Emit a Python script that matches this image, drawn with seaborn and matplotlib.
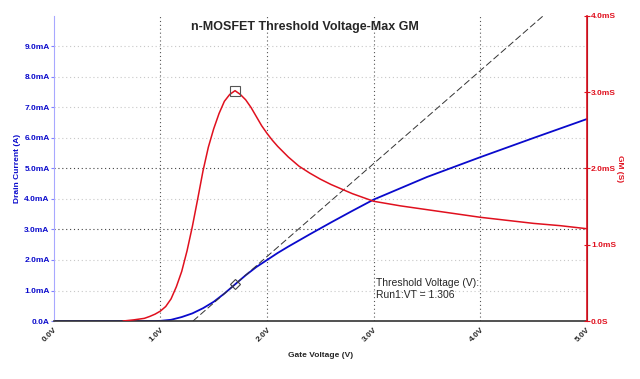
import numpy as np
import pandas as pd
import matplotlib
matplotlib.use("Agg")
import matplotlib.pyplot as plt
import seaborn as sns

# drain current curve (gate voltage in V, current in mA)
id_volts = [0.0, 0.95, 1.0, 1.1, 1.2, 1.3, 1.4, 1.5, 1.6, 1.7, 1.8, 1.9, 2.0,
            2.1, 2.2, 2.4, 2.6, 2.8, 3.0, 3.5, 4.0, 4.5, 5.0]
drain_ma = [0.0, 0.0, 0.005, 0.04, 0.13, 0.25, 0.42, 0.63, 0.9, 1.2, 1.5, 1.77, 2.0,
            2.23, 2.44, 2.84, 3.23, 3.61, 3.98, 4.72, 5.37, 6.0, 6.62]

# transconductance curve (mS)
gm_volts = [0.65, 0.75, 0.85, 0.9, 0.95, 1.0, 1.05, 1.1, 1.15, 1.2, 1.25, 1.3,
            1.35, 1.4, 1.45, 1.5, 1.55, 1.6, 1.65, 1.7, 1.75, 1.8, 1.85, 1.9,
            1.95, 2.0, 2.05, 2.1, 2.2, 2.3, 2.4, 2.5, 2.6, 2.8, 3.0, 3.25, 3.5, 3.75,
            4.0, 4.25, 4.5, 4.75, 5.0]
gm_ms = [0.0, 0.015, 0.035, 0.06, 0.09, 0.13, 0.19, 0.29, 0.45, 0.65, 0.92, 1.24,
         1.6, 1.97, 2.28, 2.52, 2.72, 2.88, 2.97, 3.02, 2.97, 2.9, 2.8, 2.68,
         2.56, 2.46, 2.37, 2.29, 2.15, 2.03, 1.94, 1.86, 1.79, 1.67, 1.57, 1.51, 1.46,
         1.41, 1.36, 1.32, 1.28, 1.25, 1.21]

vt = 1.306
x_ticks = [0, 1, 2, 3, 4, 5]
x_labels = ["0.0V", "1.0V", "2.0V", "3.0V", "4.0V", "5.0V"]
left_ticks = [0, 1, 2, 3, 4, 5, 6, 7, 8, 9]
left_labels = ["0.0A"] + ["%.1fmA" % t for t in left_ticks[1:]]
right_ticks = [0, 1, 2, 3, 4]
right_labels = ["0.0S"] + ["%.1fmS" % t for t in right_ticks[1:]]

df_id = pd.DataFrame({"V": id_volts, "Id": drain_ma})
df_gm = pd.DataFrame({"V": gm_volts, "gm": gm_ms})

sns.set_style("white")
plt.rcParams["font.family"] = ["Liberation Sans", "DejaVu Sans"]

BLUE = "#0a0acc"
RED = "#e0101e"

fig = plt.figure(figsize=(6.4, 3.79), dpi=100)
ax = fig.add_axes([0.084, 0.153, 0.833, 0.805])
ax2 = ax.twinx()

# grid
for v in x_ticks[1:-1]:
    ax.axvline(v, color="#555555", lw=0.8, ls=(0, (1, 2.5)), zorder=0)
for m in left_ticks[1:]:
    c = "#444444" if m in (3, 5) else "#c8c8c8"
    ax.axhline(m, color=c, lw=0.8, ls=(0, (1, 2.5)), zorder=0)

sns.lineplot(data=df_id, x="V", y="Id", ax=ax, color=BLUE, lw=1.3)

# tangent at max gm
ipk = int(np.argmax(gm_ms))
vpk = gm_volts[ipk]
idpk = np.interp(vpk, id_volts, drain_ma)
slope = idpk / (vpk - vt)
x_end = vt + 10 / slope
ax.plot([vt, x_end], [0, 10], color="#333333", lw=0.7, ls=(0, (7, 3)))
ax.plot(vpk, idpk, marker="D", ms=5, mfc="none", mec="#444444", mew=0.8)

sns.lineplot(data=df_gm, x="V", y="gm", ax=ax2, color=RED, lw=1.1)
ax2.plot(vpk, gm_ms[ipk], marker="s", ms=7, mfc="none", mec="#555555", mew=0.8)

ax.set_xlim(0, 5)
ax.set_ylim(0, 10)
ax2.set_ylim(0, 4)

ax.set_xticks(x_ticks)
ax.set_xticklabels(x_labels, rotation=45, ha="right", rotation_mode="anchor",
                   fontsize=6, fontweight="bold")
ax.set_yticks(left_ticks)
ax.set_yticklabels(left_labels, fontsize=6, fontweight="bold", color=BLUE)
ax2.set_yticks(right_ticks)
ax2.set_yticklabels(right_labels, fontsize=6, fontweight="bold", color=RED)

ax.tick_params(axis="x", length=3, width=0.8, color="#333333", pad=2, direction="inout")
ax.tick_params(axis="y", length=2, width=0.8, color="#8080ff", pad=1)
ax2.tick_params(axis="y", length=4, width=0.8, color=RED, pad=1, direction="inout")

for a in (ax, ax2):
    a.spines["top"].set_visible(False)
ax.spines["left"].set_color("#a8a8ff")
ax.spines["bottom"].set_color("#333333")
ax.spines["bottom"].set_linewidth(1.2)
ax2.spines["right"].set_color(RED)
ax2.spines["right"].set_linewidth(1.2)
ax2.spines["left"].set_visible(False)
ax2.spines["bottom"].set_visible(False)

ax.set_xlabel("Gate Voltage (V)", fontsize=6, fontweight="bold", labelpad=6)
ax.set_ylabel("Drain Current (A)", fontsize=6, fontweight="bold", color=BLUE, labelpad=2)
ax2.set_ylabel("GM (S)", fontsize=6, fontweight="bold", color=RED, rotation=270,
               labelpad=5)

ax.text(3.02, 1.42, "Threshold Voltage (V):\nRun1:VT = %.3f" % vt, fontsize=7.5,
        va="top", ha="left", linespacing=1.3)

fig.text(0.477, 0.93, "n-MOSFET Threshold Voltage-Max GM", fontsize=9,
         fontweight="bold", ha="center", va="center")

fig.savefig("out.png", dpi=100)
